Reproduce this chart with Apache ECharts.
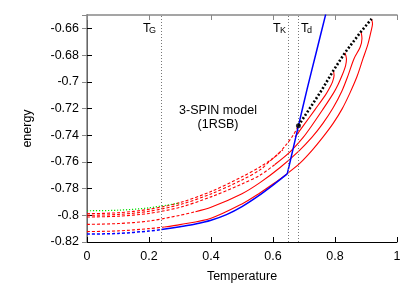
<!DOCTYPE html>
<html><head><meta charset="utf-8">
<script src="https://cdn.jsdelivr.net/npm/echarts@6/dist/echarts.min.js"></script>
<style>html,body{margin:0;padding:0;background:#fff}#c{width:411px;height:288px}</style>
</head><body><div id="c"></div>
<script>
// ---- data (Temperature, energy) ----
const blueLow   = [[0,-0.8141],[0.1,-0.8136],[0.2,-0.8118],[0.24,-0.8107],[0.3,-0.8085],[0.35,-0.8065],[0.4,-0.8037],[0.45,-0.7995],[0.5,-0.7935],[0.553,-0.7855],[0.6,-0.7774],[0.646,-0.7690]];
const blueUpper = [[0.646,-0.7690],[0.664,-0.7510],[0.682,-0.7330],[0.71,-0.7055],[0.74,-0.6775],[0.77,-0.6495]];

const curveA = [[0,-0.8122],[0.1,-0.8117],[0.2,-0.8100],[0.25,-0.8088],[0.3,-0.8070],[0.4,-0.8022],[0.5,-0.7915],[0.553,-0.7840],[0.6,-0.7766],[0.646,-0.7688],[0.687,-0.7610],[0.726,-0.7514],[0.761,-0.7415],[0.794,-0.7312],[0.823,-0.7203],[0.848,-0.7085],[0.871,-0.6961],[0.890,-0.6829],[0.906,-0.6720],[0.916,-0.6624],[0.921,-0.6566],[0.918,-0.6529]];
const curveB = [[0,-0.8068],[0.1,-0.8062],[0.2,-0.8043],[0.3,-0.8000],[0.35,-0.7973],[0.4,-0.7940],[0.5,-0.7838],[0.558,-0.7755],[0.623,-0.7642],[0.684,-0.7517],[0.726,-0.7415],[0.761,-0.7312],[0.794,-0.7195],[0.822,-0.7071],[0.842,-0.6954],[0.861,-0.6829],[0.881,-0.6741],[0.887,-0.6676],[0.884,-0.6624]];
const curveC = [[0,-0.8013],[0.1,-0.8007],[0.2,-0.7986],[0.3,-0.7940],[0.4,-0.7862],[0.5,-0.7765],[0.558,-0.7700],[0.606,-0.7620],[0.655,-0.7525],[0.698,-0.7415],[0.725,-0.7329],[0.760,-0.7210],[0.795,-0.7085],[0.810,-0.7020],[0.824,-0.6946],[0.834,-0.6881],[0.837,-0.6829],[0.832,-0.6783]];
const curveD = [[0,-0.8000],[0.1,-0.7994],[0.2,-0.7970],[0.3,-0.7920],[0.4,-0.7840],[0.5,-0.7735],[0.558,-0.7660],[0.590,-0.7594],[0.632,-0.7510],[0.671,-0.7415],[0.698,-0.7329],[0.735,-0.7210],[0.769,-0.7100],[0.782,-0.7049],[0.792,-0.7001],[0.797,-0.6954],[0.795,-0.6915]];
const curveE = [[0,-0.7988],[0.1,-0.7981],[0.2,-0.7955],[0.3,-0.7905],[0.4,-0.7822],[0.5,-0.7712],[0.558,-0.7638],[0.610,-0.7554],[0.642,-0.7473],[0.665,-0.7400],[0.682,-0.7329]];
const greenDot = [[0,-0.7966],[0.1,-0.7962],[0.2,-0.7944],[0.3,-0.7907]];
const blackLine = [[0.682,-0.7329],[0.757,-0.7063],[0.795,-0.6915],[0.832,-0.6783],[0.884,-0.6624],[0.918,-0.6529]];

// temperature below which each curve is drawn dashed
const curves     = [curveA, curveB, curveC, curveD, curveE];
const dashBelow  = [0.25, 0.35, 0.606, 0.655, 1];
const blueDashBelow = 0.24;

const markTemps  = [0.241, 0.649, 0.683];
const markNames  = ['G', 'K', 'd'];

const FONT = 'Liberation Sans, Arial, Helvetica, sans-serif';
const RED = '#ff0000', BLUE = '#0000ff';
const DASH = [3,2];

function ln(data, color, type, width, z, smooth) {
  return { type:'line', data, showSymbol:false, symbol:'none', smooth: smooth === undefined ? 0.3 : smooth,
    lineStyle:{ color, type, width, cap:'butt', join:'round' }, z, silent:true, animation:false };
}
function splitAt(arr, t) {
  return [arr.filter(p => p[0] <= t), arr.filter(p => p[0] >= t)];
}

const chart = echarts.init(document.getElementById('c'), null, {renderer:'canvas'});
const series = [];
curves.forEach((c, i) => {
  const [lo, hi] = splitAt(c, dashBelow[i]);
  if (lo.length > 1) series.push(ln(lo, RED, DASH, 1.1, 2));
  if (hi.length > 1) series.push(ln(hi, RED, 'solid', 1.1, 2));
});
series.push(ln(greenDot, '#00e000', [1.2,1.8], 1.2, 2));
const [bLo, bHi] = splitAt(blueLow, blueDashBelow);
series.push(ln(bLo, BLUE, DASH, 1.5, 3), ln(bHi, BLUE, 'solid', 1.5, 3), ln(blueUpper, BLUE, 'solid', 1.5, 3));
series.push(ln(blackLine, '#000', [2,2], 2.6, 5, false));
series.push({ type:'scatter', data:[blackLine[0]], symbol:'circle', symbolSize:5, itemStyle:{color:'#000'}, z:6, silent:true, animation:false });
series[0].markLine = {
  silent:true, symbol:'none', animation:false,
  lineStyle:{ color:'#777', type:[1,2], width:1 },
  label:{ show:false },
  data: markTemps.map(t => ({ xAxis:t }))
};

const axisTxt = { color:'#000', fontSize:12.5, fontFamily:FONT };
chart.setOption({
  animation:false,
  grid:{ left:87, right:14, top:15, bottom:41 },
  xAxis:[
    { type:'value', min:0, max:1, interval:0.2, position:'bottom',
      axisLine:{ show:true, lineStyle:{ color:'#000', width:1 } },
      axisTick:{ show:true, inside:true, length:5, lineStyle:{ color:'#000' } },
      axisLabel:Object.assign({ margin:8 }, axisTxt),
      splitLine:{ show:false },
      name:'Temperature', nameLocation:'middle', nameGap:28, nameTextStyle:axisTxt },
    { type:'value', min:0, max:1, interval:0.2, position:'top',
      axisLine:{ show:true, lineStyle:{ color:'#888', width:1.5 } },
      axisTick:{ show:true, inside:true, length:5, lineStyle:{ color:'#888' } },
      axisLabel:{ show:false }, splitLine:{ show:false } }
  ],
  yAxis:[
    { type:'value', min:-0.82, max:-0.65, interval:0.02, position:'left',
      axisLine:{ show:true, lineStyle:{ color:'#000', width:1 } },
      axisTick:{ show:true, inside:true, length:5, lineStyle:{ color:'#000' } },
      axisLabel:Object.assign({ margin:8, showMaxLabel:false }, axisTxt),
      splitLine:{ show:false },
      name:'energy', nameLocation:'middle', nameGap:53, nameRotate:90, nameTextStyle:axisTxt },
    { type:'value', min:-0.82, max:-0.65, interval:0.02, position:'right',
      axisLine:{ show:true, lineStyle:{ color:'#888', width:1.5 } },
      axisTick:{ show:true, inside:true, length:5, lineStyle:{ color:'#888' } },
      axisLabel:{ show:false }, splitLine:{ show:false } }
  ],
  series
});

// labels for T_G, T_K, T_d and the model text
const offs = [[-18.7,-12.7],[-15.3,-8.3],[2.3,8.3]];
const g = [];
markTemps.forEach((t,i) => {
  const px = chart.convertToPixel({xAxisIndex:0}, t);
  g.push({ type:'text', x:px+offs[i][0], y:22, silent:true,
    style:{ text:'T', fontSize:12.5, fontFamily:FONT, fill:'#000', textAlign:'left', textVerticalAlign:'top' } });
  g.push({ type:'text', x:px+offs[i][1], y:26.5, silent:true,
    style:{ text:markNames[i], fontSize:9, fontFamily:FONT, fill:'#000', textAlign:'left', textVerticalAlign:'top' } });
});
g.push({ type:'text', x:218, y:111, silent:true,
  style:{ text:'3-SPIN model', fontSize:12.5, fontFamily:FONT, fill:'#000', textAlign:'center', textVerticalAlign:'middle' } });
g.push({ type:'text', x:218, y:124.5, silent:true,
  style:{ text:'(1RSB)', fontSize:12.5, fontFamily:FONT, fill:'#000', textAlign:'center', textVerticalAlign:'middle' } });
chart.setOption({ graphic:g });
</script></body></html>
